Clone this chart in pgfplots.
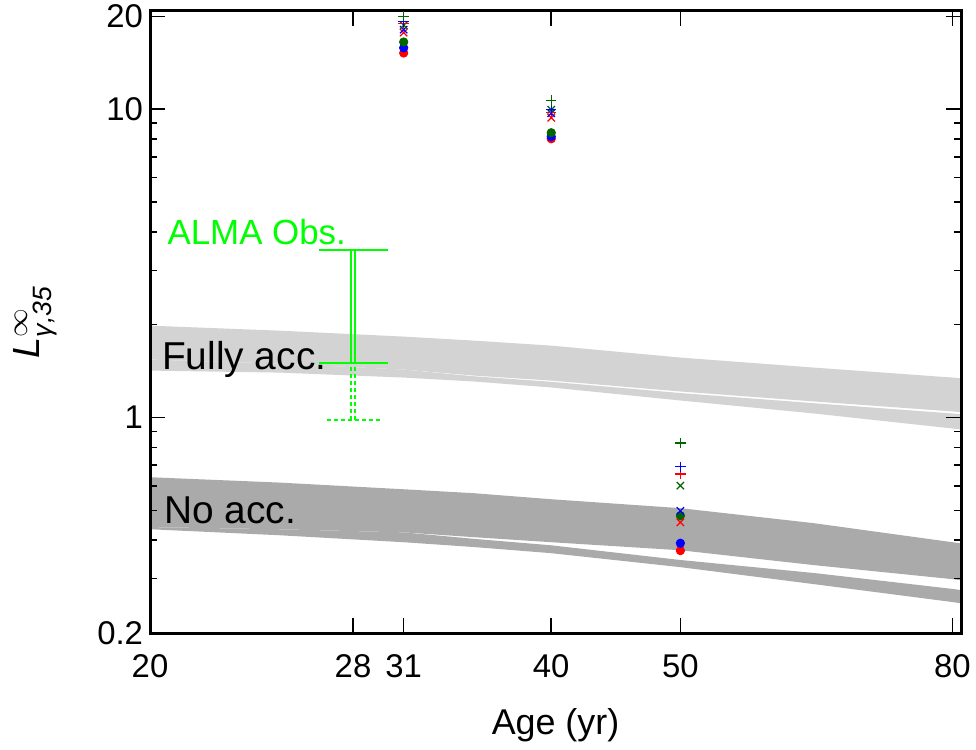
\documentclass[border=0pt]{standalone}
\usepackage{fontspec}
\setmainfont{Liberation Sans}
\usepackage{amsmath}
\usepackage{pgfplots}
\pgfplotsset{compat=1.18}
\definecolor{lgray}{HTML}{D3D3D3}
\definecolor{dgray}{HTML}{AAAAAA}
\definecolor{dgreen}{HTML}{006400}
\definecolor{bgreen}{HTML}{00FF00}
\begin{document}
\begin{tikzpicture}
\begin{axis}[
 scale only axis, width=405.5bp, height=311bp,
 xmode=log, ymode=log,
 xmin=20, xmax=81.2, ymin=0.2, ymax=20.8,
 xtick={20,28.4,31,40,50,80}, xticklabels={20,28,31,40,50,80},
 ytick={0.2,1,10,20}, yticklabels={0.2,1,10,20},
 minor xtick={},
 minor ytick={0.3,0.4,0.5,0.6,0.7,0.8,0.9,2,3,4,5,6,7,8,9},
 major tick length=7.5bp, minor tick length=3.5bp,
 tick style={line width=0.75bp, black},
 axis line style={line width=1.5bp},
 ticklabel style={font=\fontsize{16.5}{18}\selectfont},
 xticklabel style={yshift=-7bp},
 /pgf/number format/assume math mode=true,
 axis on top,
 xlabel={Age (yr)},
 ylabel={\textit{L}$^{\infty}_{\text{\textit{γ,35}}}$},
 label style={font=\fontsize{18}{20}\selectfont},
 xlabel style={at={(axis description cs:0.5,-0.148)}, anchor=center},
 ylabel style={at={(axis description cs:-0.1418,0.5)}, anchor=center, font=\fontsize{19}{21}\selectfont},
]
\coordinate (SW) at (rel axis cs:0,0);
\coordinate (NE) at (rel axis cs:1,1);
% Fully accelerated bundle (upper part)
\addplot[fill=lgray, draw=none] coordinates {
 (20,1.985)(25,1.912)(31,1.829)(35,1.775)(40,1.710)(50,1.564)(63,1.451)(80,1.347)(82,1.336)
 (82,1.036)(80,1.046)(63,1.127)(50,1.214)(40,1.317)(35,1.367)(31,1.430)(25,1.495)(20,1.541)} -- cycle;
% Fully accelerated bundle (lower part)
\addplot[fill=lgray, draw=none] coordinates {
 (20,1.541)(25,1.495)(31,1.430)(35,1.360)(40,1.305)(50,1.200)(63,1.112)(80,1.030)(82,1.020)
 (82,0.910)(80,0.921)(63,1.030)(50,1.135)(40,1.251)(35,1.308)(31,1.347)(25,1.398)(20,1.419)} -- cycle;
% No acceleration bundle (upper part)
\addplot[fill=dgray, draw=none] coordinates {
 (20,0.640)(25,0.615)(31,0.585)(35,0.568)(40,0.543)(50,0.508)(63,0.454)(80,0.394)(82,0.388)
 (82,0.295)(80,0.299)(63,0.332)(50,0.371)(40,0.394)(35,0.409)(31,0.424)(25,0.434)(20,0.441)} -- cycle;
% No acceleration bundle (lower part)
\addplot[fill=dgray, draw=none] coordinates {
 (20,0.441)(25,0.434)(31,0.424)(35,0.404)(40,0.385)(50,0.345)(63,0.313)(80,0.278)(82,0.274)
 (82,0.248)(80,0.252)(63,0.288)(50,0.327)(40,0.363)(35,0.380)(31,0.394)(25,0.415)(20,0.434)} -- cycle;
% ALMA observation bar
\addplot[bgreen, line width=1bp] coordinates {(28.28,1.50)(28.28,3.49)};
\addplot[bgreen, line width=1bp] coordinates {(28.52,1.50)(28.52,3.49)};
\addplot[bgreen, line width=1bp] coordinates {(26.78,3.49)(30.15,3.49)};
\addplot[bgreen, line width=1bp] coordinates {(26.78,1.50)(30.15,1.50)};
\addplot[bgreen, line width=1bp, dash pattern=on 2bp off 1.5bp] coordinates {(28.28,0.98)(28.28,1.50)};
\addplot[bgreen, line width=1bp, dash pattern=on 2bp off 1.5bp] coordinates {(28.52,0.98)(28.52,1.50)};
\addplot[bgreen, line width=1bp, dash pattern=on 2bp off 1.5bp] coordinates {(27.15,0.98)(29.74,0.98)};
% model points
\addplot[only marks, mark=*, mark size=2.1bp, red, mark options={fill=red, draw=red}] coordinates {(31,15.2)(40,8.01)(50,0.370)};
\addplot[only marks, mark=*, mark size=2.1bp, blue, mark options={fill=blue, draw=blue}] coordinates {(31,15.8)(40,8.14)(50,0.391)};
\addplot[only marks, mark=*, mark size=2.1bp, dgreen, mark options={fill=dgreen, draw=dgreen}] coordinates {(31,16.5)(40,8.38)(50,0.480)};
\addplot[only marks, mark=x, mark size=2.6bp, red, mark options={line width=0.6bp}] coordinates {(31,17.7)(40,9.37)(50,0.457)};
\addplot[only marks, mark=x, mark size=2.6bp, blue, mark options={line width=0.6bp}] coordinates {(31,18.1)(40,9.70)(50,0.498)};
\addplot[only marks, mark=x, mark size=2.6bp, dgreen, mark options={line width=0.6bp}] coordinates {(31,18.7)(40,9.95)(50,0.601)};
\addplot[only marks, mark=+, mark size=2.6bp, red, mark options={line width=0.6bp}] coordinates {(31,18.9)(40,9.75)(50,0.656)};
\addplot[only marks, mark=+, mark size=2.6bp, blue, mark options={line width=0.6bp}] coordinates {(31,19.2)(40,9.95)(50,0.692)};
\addplot[only marks, mark=+, mark size=2.6bp, dgreen, mark options={line width=0.6bp}] coordinates {(31,20.0)(40,10.66)(50,0.826)};
% labels
\node[anchor=base west, inner sep=0pt, text=bgreen, font=\fontsize{17.5}{19}\selectfont] at (axis cs:20.6,3.64) {ALMA Obs.};
\node[anchor=base west, inner sep=0pt, font=\fontsize{19.5}{22}\selectfont] at (axis cs:20.41,1.433) {Fully acc.};
\node[anchor=base west, inner sep=0pt, font=\fontsize{19.5}{22}\selectfont] at (axis cs:20.49,0.4515) {No acc.};
\end{axis}
\pgfresetboundingbox
\path ([xshift=-75bp,yshift=-58.5bp]SW) rectangle ([xshift=7.5bp,yshift=5.5bp]NE);
\end{tikzpicture}
\end{document}
